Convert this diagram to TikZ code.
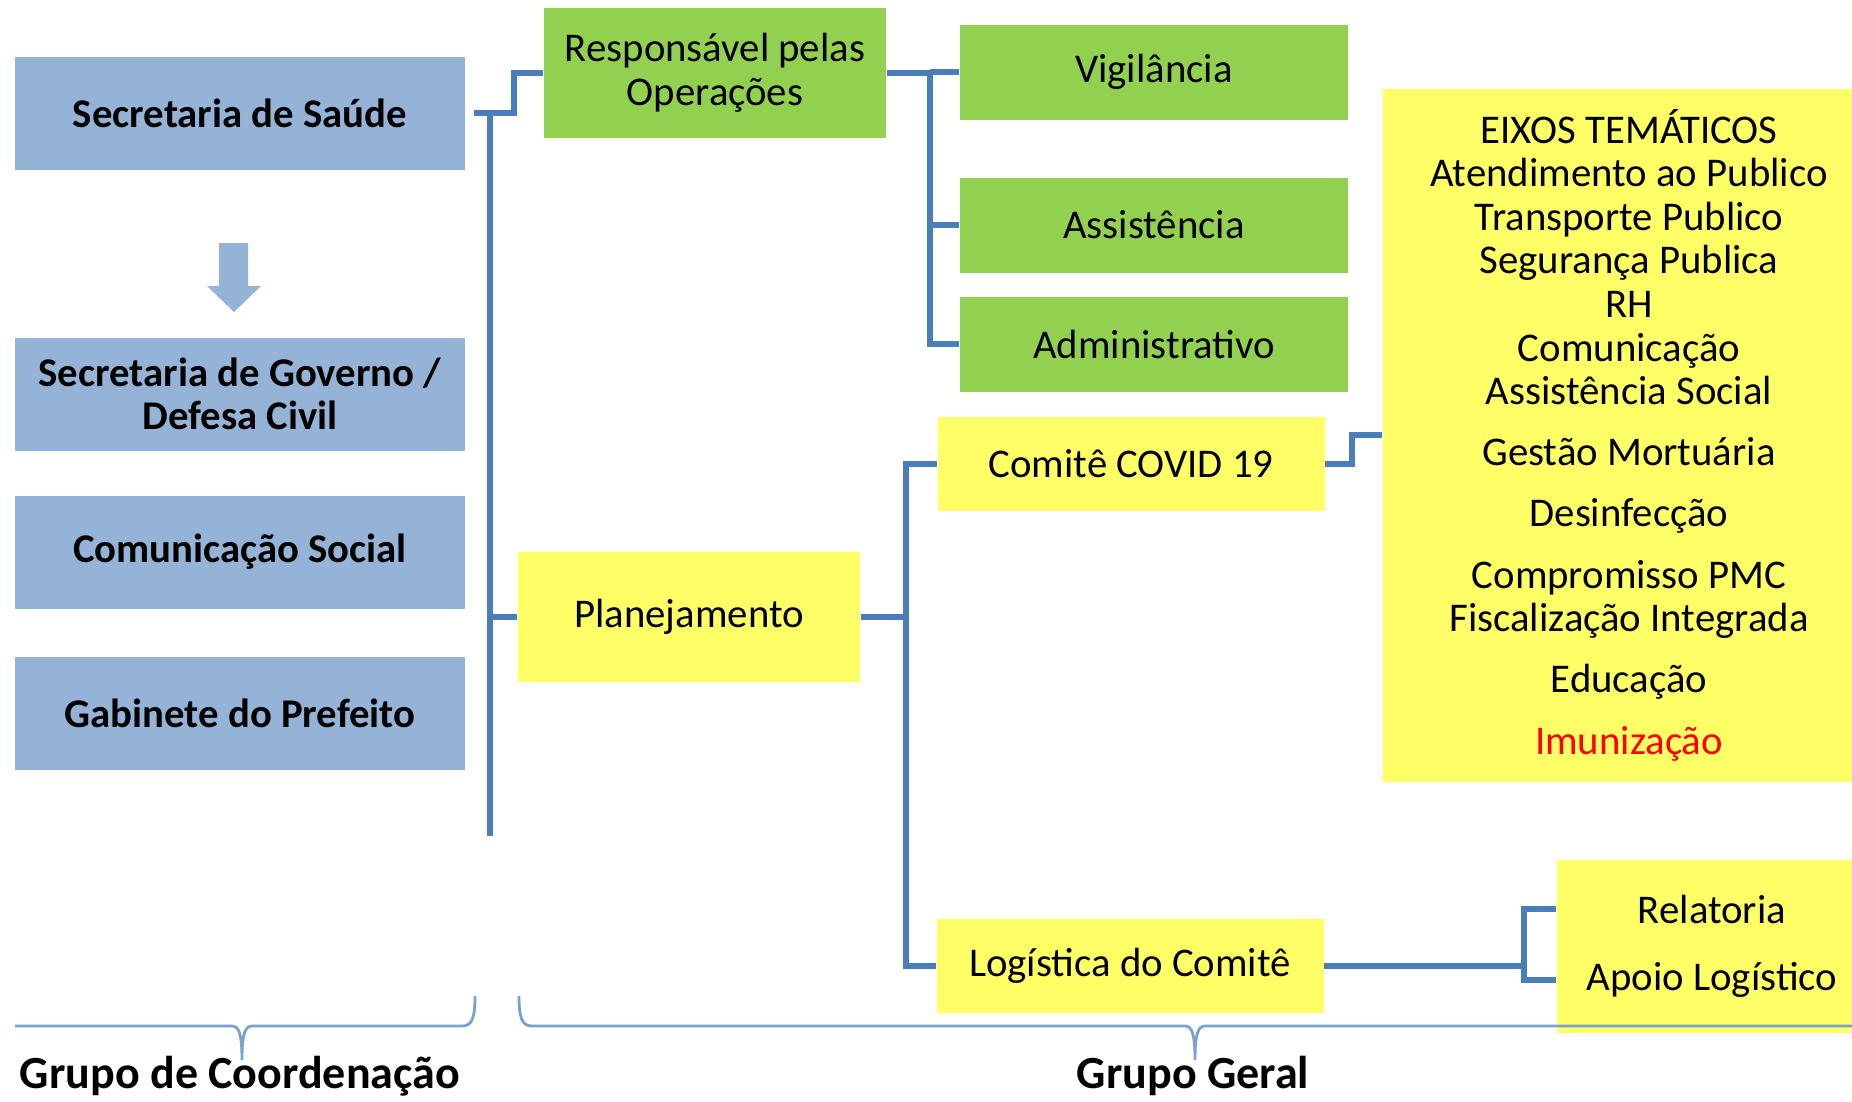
\documentclass[tikz,border=0pt]{standalone}
\usepackage{fontspec}
\setmainfont{Carlito}
\usepackage{xcolor}
\definecolor{boxblue}{HTML}{95B3D7}
\definecolor{boxgreen}{HTML}{92D050}
\definecolor{boxyellow}{HTML}{FFFF66}
\definecolor{linkblue}{HTML}{4A7EBB}
\definecolor{bracecol}{HTML}{7BA0CD}

\begin{document}
\begin{tikzpicture}[x=0.1mm, y=-0.1mm,
        every node/.style={font=\fontsize{11.6pt}{12.4pt}\selectfont},
        coordbox/.style={fill=boxblue, minimum width=45mm, minimum height=11.3mm, align=center, font=\fontsize{11.6pt}{12.4pt}\selectfont\bfseries},
        opbox/.style={fill=boxgreen, minimum width=38.8mm, minimum height=9.5mm, align=center},
        plbox/.style={fill=boxyellow, minimum width=38.7mm, minimum height=9.4mm, align=center},
        link/.style={linkblue, line width=1.6pt},
        brace/.style={bracecol, line width=0.8pt},
        grouplabel/.style={anchor=base, font=\fontsize{13.1pt}{14pt}\selectfont\bfseries}]
        \useasboundingbox (0,0) rectangle (1852,1101);
        \node[coordbox] (saude) at (240,113) {Secretaria de Saúde};
        \node[coordbox] (governo) at (240,394) {Secretaria de Governo /\\Defesa Civil};
        \node[coordbox] (comsocial) at (240,552) {Comunicação Social};
        \node[coordbox] (gabinete) at (240,713) {Gabinete do Prefeito};
        \fill[boxblue] (219,243) -- (248,243) -- (248,286) -- (261,286) -- (234,312) -- (207,286) -- (219,286) -- cycle;
        \node[opbox, minimum width=34.2mm, minimum height=13mm] (resp) at (715,73) {Responsável pelas\\Operações};
        \node[opbox] (vig) at (1154,72) {Vigilância};
        \node[opbox] (assist) at (1154,225) {Assistência};
        \node[opbox] (admin) at (1154,344) {Administrativo};
        \node[plbox, minimum width=34.2mm, minimum height=13mm] (plan) at (689,617) {Planejamento};
        \node[plbox] (comite) at (1131,464) {Comitê COVID 19};
        \node[plbox] (logist) at (1130,966) {Logística do Comitê};
        \node[fill=boxyellow, minimum width=49.2mm, minimum height=69.3mm, align=center] (eixos) at (1629,435) {EIXOS TEMÁTICOS\\Atendimento ao Publico\\Transporte Publico\\Segurança Publica\\RH\\Comunicação\\Assistência Social\\[5pt]Gestão Mortuária\\[5pt]Desinfecção\\[5pt]Compromisso PMC\\Fiscalização Integrada\\[5pt]Educação\\[5pt]\textcolor{red}{Imunização}};
        \node[fill=boxyellow, minimum width=31mm, minimum height=17.3mm] (relbox) at (1712,946) {};
        \node (relatoria) at (1712,909) {Relatoria};
        \node (apoio) at (1712,980) {Apoio Logístico};
        \coordinate (bustop) at (490,113);
        \coordinate (busend) at (490,836);
        \draw[link] ([xshift=0.8mm]saude.east) -| ([xshift=-2.9mm]resp.west) -- (resp.west);
        \draw[link] (bustop) -- (busend);
        \draw[link] (bustop |- plan.west) -- (plan.west);
        \draw[link] (resp.east) -- ++(43,0) coordinate (ops) |- (admin.west);
        \draw[link] (ops |- vig.west) -- (vig.west);
        \draw[link] (ops |- assist.west) -- (assist.west);
        \draw[link] (plan.east) -- ++(45,0) coordinate (pl) |- (comite.west);
        \draw[link] (pl) |- (logist.west);
        \draw[link] (comite.east) -- ++(27,0) |- (eixos.west);
        \draw[link] (logist.east) -- ++(200,0) coordinate (lg) |- (relbox.west |- relatoria);
        \draw[link] (lg) |- (relbox.west |- apoio);
        \draw[brace] (15,1026) -- (232,1026) .. controls (239,1026) and (242,1034) .. (242,1060) .. controls (242,1034) and (245,1026) .. (252,1026) -- (462,1026) .. controls (472,1026) and (475,1018) .. (475,996);
        \draw[brace] (519,996) .. controls (519,1018) and (522,1026) .. (532,1026) -- (1185,1026) .. controls (1192,1026) and (1195,1034) .. (1195,1060) .. controls (1195,1034) and (1198,1026) .. (1205,1026) -- (1852,1026);
        \node[grouplabel] (coordlabel) at (240,1088) {Grupo de Coordenação};
        \node[grouplabel] (gerallabel) at (1193,1088) {Grupo Geral};
\end{tikzpicture}
\end{document}
